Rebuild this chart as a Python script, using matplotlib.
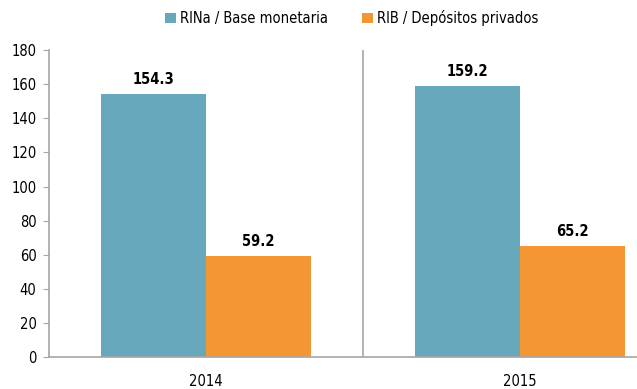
import numpy as np
import matplotlib.pyplot as plt

years = ["2014", "2015"]
rina_base = [154.3, 159.2]
rib_depositos = [59.2, 65.2]
series_names = ["RINa / Base monetaria", "RIB / Depósitos privados"]
colors = ["#67a8bd", "#f59634"]

plt.rcParams['font.family'] = ['DejaVu Sans']
plt.rcParams['font.stretch'] = 'condensed'

fig = plt.figure(figsize=(6.37, 3.89), dpi=100)
ax = fig.add_axes([0.077, 0.082, 0.923, 0.789])

x = np.arange(len(years))
w = 0.334
b1 = ax.bar(x - w / 2, rina_base, w, color=colors[0], label=series_names[0])
b2 = ax.bar(x + w / 2, rib_depositos, w, color=colors[1], label=series_names[1])

for bars, vals in ((b1, rina_base), (b2, rib_depositos)):
    for rect, v in zip(bars, vals):
        ax.text(rect.get_x() + rect.get_width() / 2, v + 4, f"{v:.1f}",
                ha='center', va='bottom', fontsize=10.5, fontweight='bold')

ax.set_ylim(0, 180)
ax.set_yticks(range(0, 181, 20))
ax.set_xlim(-0.5, 1.373)
ax.set_xticks(x)
ax.set_xticklabels(years)
ax.axvline(0.5, color='#a6a6a6', lw=1.2)

for s in ('top', 'right'):
    ax.spines[s].set_visible(False)
for s in ('left', 'bottom'):
    ax.spines[s].set_color('#a6a6a6')
    ax.spines[s].set_linewidth(1.2)
ax.tick_params(axis='y', colors='#a6a6a6', labelcolor='black', length=4, labelsize=10.5, pad=5)
ax.tick_params(axis='x', length=0, labelsize=10.5, pad=12)

ax.legend(loc='center', bbox_to_anchor=(0.515, 1.105), ncol=2, frameon=False,
          fontsize=10.5, handlelength=0.75, handleheight=0.75, handletextpad=0.3,
          columnspacing=2.3)

fig.savefig("out.png", dpi=100)
